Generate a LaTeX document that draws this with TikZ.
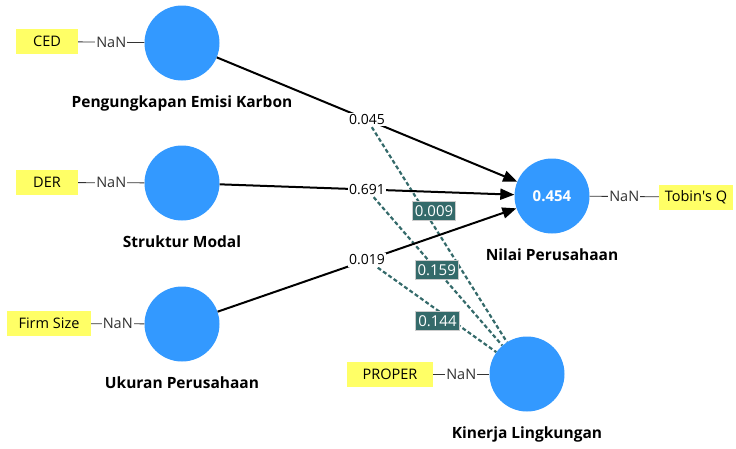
\documentclass[tikz,border=0pt]{standalone}
\usepackage{fontspec}
\setmainfont{Open Sans}
\usetikzlibrary{arrows.meta,backgrounds}

\definecolor{constructblue}{RGB}{51,153,255}
\definecolor{indicatoryellow}{RGB}{255,255,102}
\definecolor{modteal}{RGB}{52,106,106}

\tikzset{construct/.style={circle, fill=constructblue, draw=none, minimum size=75pt, inner sep=0pt, text=white, font=\fontsize{15}{17}\selectfont\bfseries}}
\tikzset{construct_label/.style={font=\fontsize{15.5}{17}\selectfont\bfseries, label distance=11pt}}
\tikzset{indicator/.style={rectangle, fill=indicatoryellow, draw=none, minimum height=25pt, inner sep=0pt, font=\fontsize{14.5}{16}\selectfont}}
\tikzset{loading_line/.style={color=black!80, line width=0.8pt}}
\tikzset{nan_label/.style={fill=white, inner sep=1pt, font=\fontsize{14.5}{16}\selectfont}}
\tikzset{path_arrow/.style={color=black, line width=2pt, -{Triangle[length=14pt,width=11pt]}}}
\tikzset{coef/.style={fill=white, inner sep=1.5pt, font=\fontsize{14}{16}\selectfont}}
\tikzset{moderation/.style={color=modteal, line width=2.2pt, dash pattern=on 4pt off 2.5pt}}
\tikzset{mod_coef/.style={solid, fill=modteal, draw=black!20, line width=0.6pt, text=white, inner xsep=2.5pt, inner ysep=4pt, font=\fontsize{15}{17}\selectfont}}

\begin{document}
\begin{tikzpicture}[x=1pt,y=1pt]
    \useasboundingbox (0,0) rectangle (736,-448);
    % constructs
    \node[construct,label={[construct_label]below:Pengungkapan Emisi Karbon}] (pek) at (182,-43) {};
    \node[construct,label={[construct_label]below:Struktur Modal}] (sm) at (182,-183) {};
    \node[construct,label={[construct_label]below:Ukuran Perusahaan}] (up) at (182,-324) {};
    \node[construct,label={[construct_label]below:Nilai Perusahaan}] (np) at (552,-196) {0.454};
    \node[construct,label={[construct_label]below:Kinerja Lingkungan}] (kl) at (527,-374) {};
    % indicators
    \node[indicator, minimum width=62pt] (ced) at (47,-41.5) {CED};
    \node[indicator, minimum width=62pt] (der) at (47,-182.5) {DER};
    \node[indicator, minimum width=84pt] (fs) at (49,-323.5) {Firm Size};
    \node[indicator, minimum width=86pt] (proper) at (390,-374) {PROPER};
    \node[indicator, minimum width=74pt] (tq) at (696,-197) {Tobin\textquotesingle s Q};
    \draw[loading_line] (ced) -- node[nan_label]{NaN} (pek);
    \draw[loading_line] (der) -- node[nan_label]{NaN} (sm);
    \draw[loading_line] (fs) -- node[nan_label]{NaN} (up);
    \draw[loading_line] (proper) -- node[nan_label]{NaN} (kl);
    \draw[loading_line] (np) -- node[nan_label]{NaN} (tq);
    % structural paths
    \draw[path_arrow] (pek) -- node[coef] (c1) {0.045} (np);
    \draw[path_arrow] (sm) -- node[coef] (c2) {0.691} (np);
    \draw[path_arrow] (up) -- node[coef] (c3) {0.019} (np);
    % moderating effects
    \begin{scope}[on background layer]
    \draw[moderation] (c1) -- node[pos=0.39,xshift=9.5pt,mod_coef] (m1) {0.009} (kl);
    \draw[moderation] (c2) -- node[pos=0.49,mod_coef] (m2) {0.159} (kl);
    \draw[moderation] (c3) -- node[pos=0.63,xshift=-15pt,mod_coef] (m3) {0.144} (kl);
    \end{scope}
\end{tikzpicture}
\end{document}
